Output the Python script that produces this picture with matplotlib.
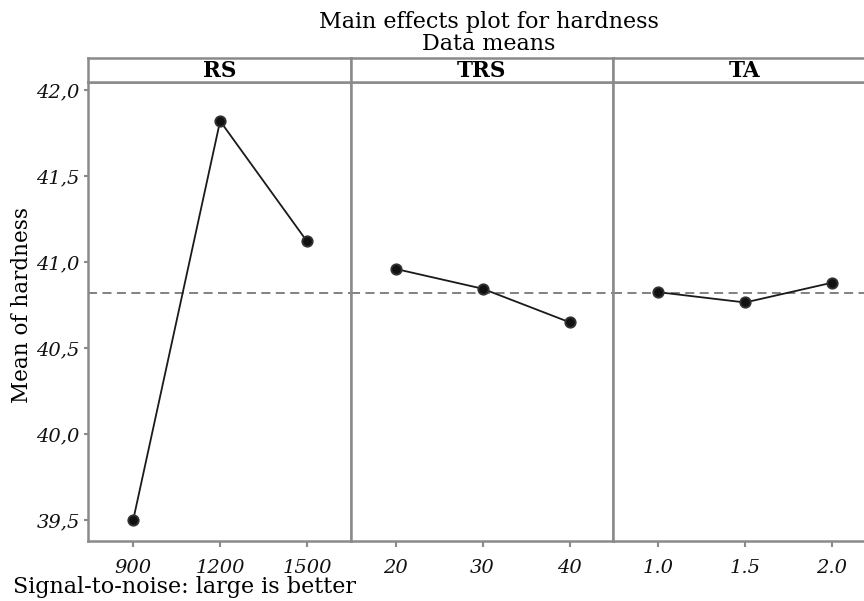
import matplotlib.pyplot as plt
from matplotlib.ticker import FuncFormatter

# factor levels and mean hardness
factors = ["RS", "TRS", "TA"]
levels = [["900", "1200", "1500"], ["20", "30", "40"], ["1.0", "1.5", "2.0"]]
means = [[39.50, 41.82, 41.12], [40.96, 40.845, 40.65], [40.825, 40.765, 40.88]]
grand_mean = 40.82
y_ticks = [39.5, 40.0, 40.5, 41.0, 41.5, 42.0]

FRAME = "#8a8a8a"
plt.rcParams["font.family"] = ["DejaVu Serif"]


def comma_fmt(v, pos):
    return f"{v:.1f}".replace(".", ",")


def main():
    fig = plt.figure(figsize=(8.64, 6.01), dpi=100)
    W, H = 864, 601
    left_px, panel_w = 88, 262.5
    top_px, bottom_px, strip_top = 82, 541, 58

    for i, (name, labs, vals) in enumerate(zip(factors, levels, means)):
        x0 = left_px + i * panel_w
        ax = fig.add_axes([x0 / W, (H - bottom_px) / H, panel_w / W,
                           (bottom_px - top_px) / H])
        xs = range(len(vals))
        ax.axhline(grand_mean, color="#777777", lw=1.3, ls=(0, (5, 3)), zorder=1)
        ax.plot(xs, vals, color="#1a1a1a", lw=1.3, zorder=2)
        ax.plot(xs, vals, "o", ms=7.5, mfc="#111111", mec="#333333", mew=1.3, zorder=3)
        ax.set_xlim(-0.52, 2.5)
        ax.set_ylim(39.378, 42.047)
        ax.set_xticks(list(xs))
        ax.set_xticklabels(labs, fontsize=14, style="italic")
        ax.set_yticks(y_ticks)
        ax.yaxis.set_major_formatter(FuncFormatter(comma_fmt))
        for sp in ax.spines.values():
            sp.set_color(FRAME)
            sp.set_linewidth(1.8)
        ax.tick_params(colors=FRAME, length=4, width=1.5, labelcolor="#111111")
        ax.tick_params(axis="x", pad=9)
        ax.tick_params(axis="y", labelsize=14, pad=3, length=3)
        for t in ax.get_yticklabels():
            t.set_style("italic")
        if i > 0:
            ax.tick_params(axis="y", left=False, labelleft=False)
        else:
            ax.set_ylabel("Mean of hardness", fontsize=15.5)
            ax.yaxis.set_label_coords((33 - 88) / panel_w, (541 - 305) / 459)

        # header strip
        sax = fig.add_axes([x0 / W, (H - top_px) / H, panel_w / W,
                            (top_px - strip_top) / H])
        sax.set_xticks([])
        sax.set_yticks([])
        for sp in sax.spines.values():
            sp.set_color(FRAME)
            sp.set_linewidth(1.8)
        sax.text(0.5, 0.45, name, ha="center", va="center", fontsize=15.5,
                 fontweight="semibold", transform=sax.transAxes)

    fig.text(489 / W, 1 - 22 / H, "Main effects plot for hardness",
             ha="center", va="center", fontsize=16)
    fig.text(489 / W, 1 - 44 / H, "Data means", ha="center", va="center",
             fontsize=16)
    fig.text(13 / W, 1 - 587 / H, "Signal-to-noise: large is better",
             ha="left", va="center", fontsize=16)

    fig.savefig("out.png", dpi=100)


if __name__ == "__main__":
    main()
